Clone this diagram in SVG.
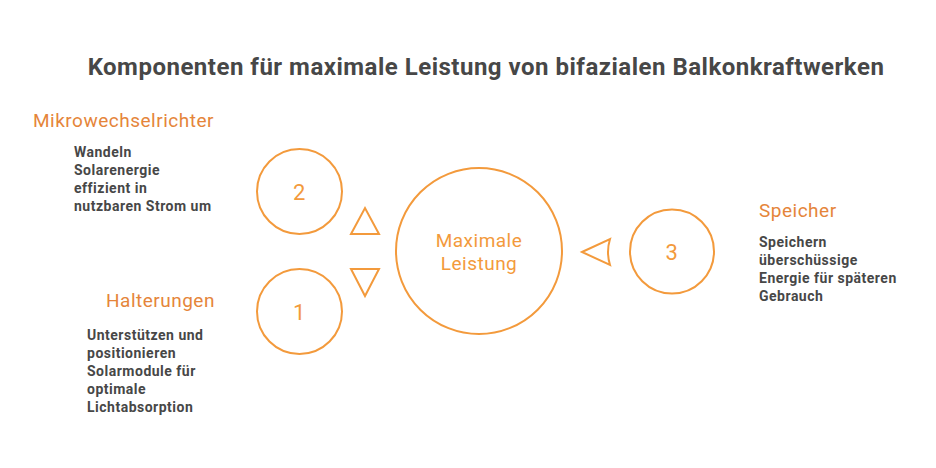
<svg xmlns="http://www.w3.org/2000/svg" width="936" height="468" viewBox="0 0 936 468">
<style>
.ring{fill:none;stroke:#F39A3C;stroke-width:2}
.arrow{fill:none;stroke:#F39A3C;stroke-width:2;stroke-linejoin:miter}
text{font-family:Roboto,"Liberation Sans",sans-serif;letter-spacing:0.5px}
.num{font-size:22px;fill:#F39A3C;text-anchor:middle}
.hub{font-size:19px;fill:#F39A3C;text-anchor:middle}
.lbl{font-size:19px;fill:#E5853A}
.desc{font-size:14px;font-weight:bold;fill:#474747}
.title{font-size:24px;font-weight:bold;fill:#474747;text-anchor:middle}
</style>
<rect width="936" height="468" fill="#fff"/>
<text class="title" x="486" y="75">Komponenten für maximale Leistung von bifazialen Balkonkraftwerken</text>
<g id="connectors">
<path class="arrow" d="M351,234 L365,208 L379,234 Z"/>
<path class="arrow" d="M351,269 L379,269 L365,296 Z"/>
<path class="arrow" d="M582,252 L610,239 Q606,252 610,265 Z"/>
</g>
<g id="hub">
<circle class="ring" cx="479" cy="251" r="83"/>
<text class="hub" x="479" y="247">Maximale</text>
<text class="hub" x="479" y="270">Leistung</text>
</g>
<g id="node2">
<circle class="ring" cx="299.5" cy="191.5" r="42.5"/>
<text class="num" x="299.5" y="199.5">2</text>
<text class="lbl" x="33" y="127">Mikrowechselrichter</text>
<text class="desc"><tspan x="74" y="157">Wandeln</tspan><tspan x="74" y="175">Solarenergie</tspan><tspan x="74" y="193">effizient in</tspan><tspan x="74" y="211">nutzbaren Strom um</tspan></text>
</g>
<g id="node1">
<circle class="ring" cx="299.5" cy="311.5" r="42.5"/>
<text class="num" x="299.5" y="319.5">1</text>
<text class="lbl" x="106" y="307">Halterungen</text>
<text class="desc"><tspan x="87" y="340">Unterstützen und</tspan><tspan x="87" y="358">positionieren</tspan><tspan x="87" y="376">Solarmodule für</tspan><tspan x="87" y="394">optimale</tspan><tspan x="87" y="412">Lichtabsorption</tspan></text>
</g>
<g id="node3">
<circle class="ring" cx="672" cy="251.5" r="42"/>
<text class="num" x="672" y="259.5">3</text>
<text class="lbl" x="759" y="217">Speicher</text>
<text class="desc"><tspan x="759" y="247">Speichern</tspan><tspan x="759" y="265">überschüssige</tspan><tspan x="759" y="283">Energie für späteren</tspan><tspan x="759" y="301">Gebrauch</tspan></text>
</g>
</svg>
